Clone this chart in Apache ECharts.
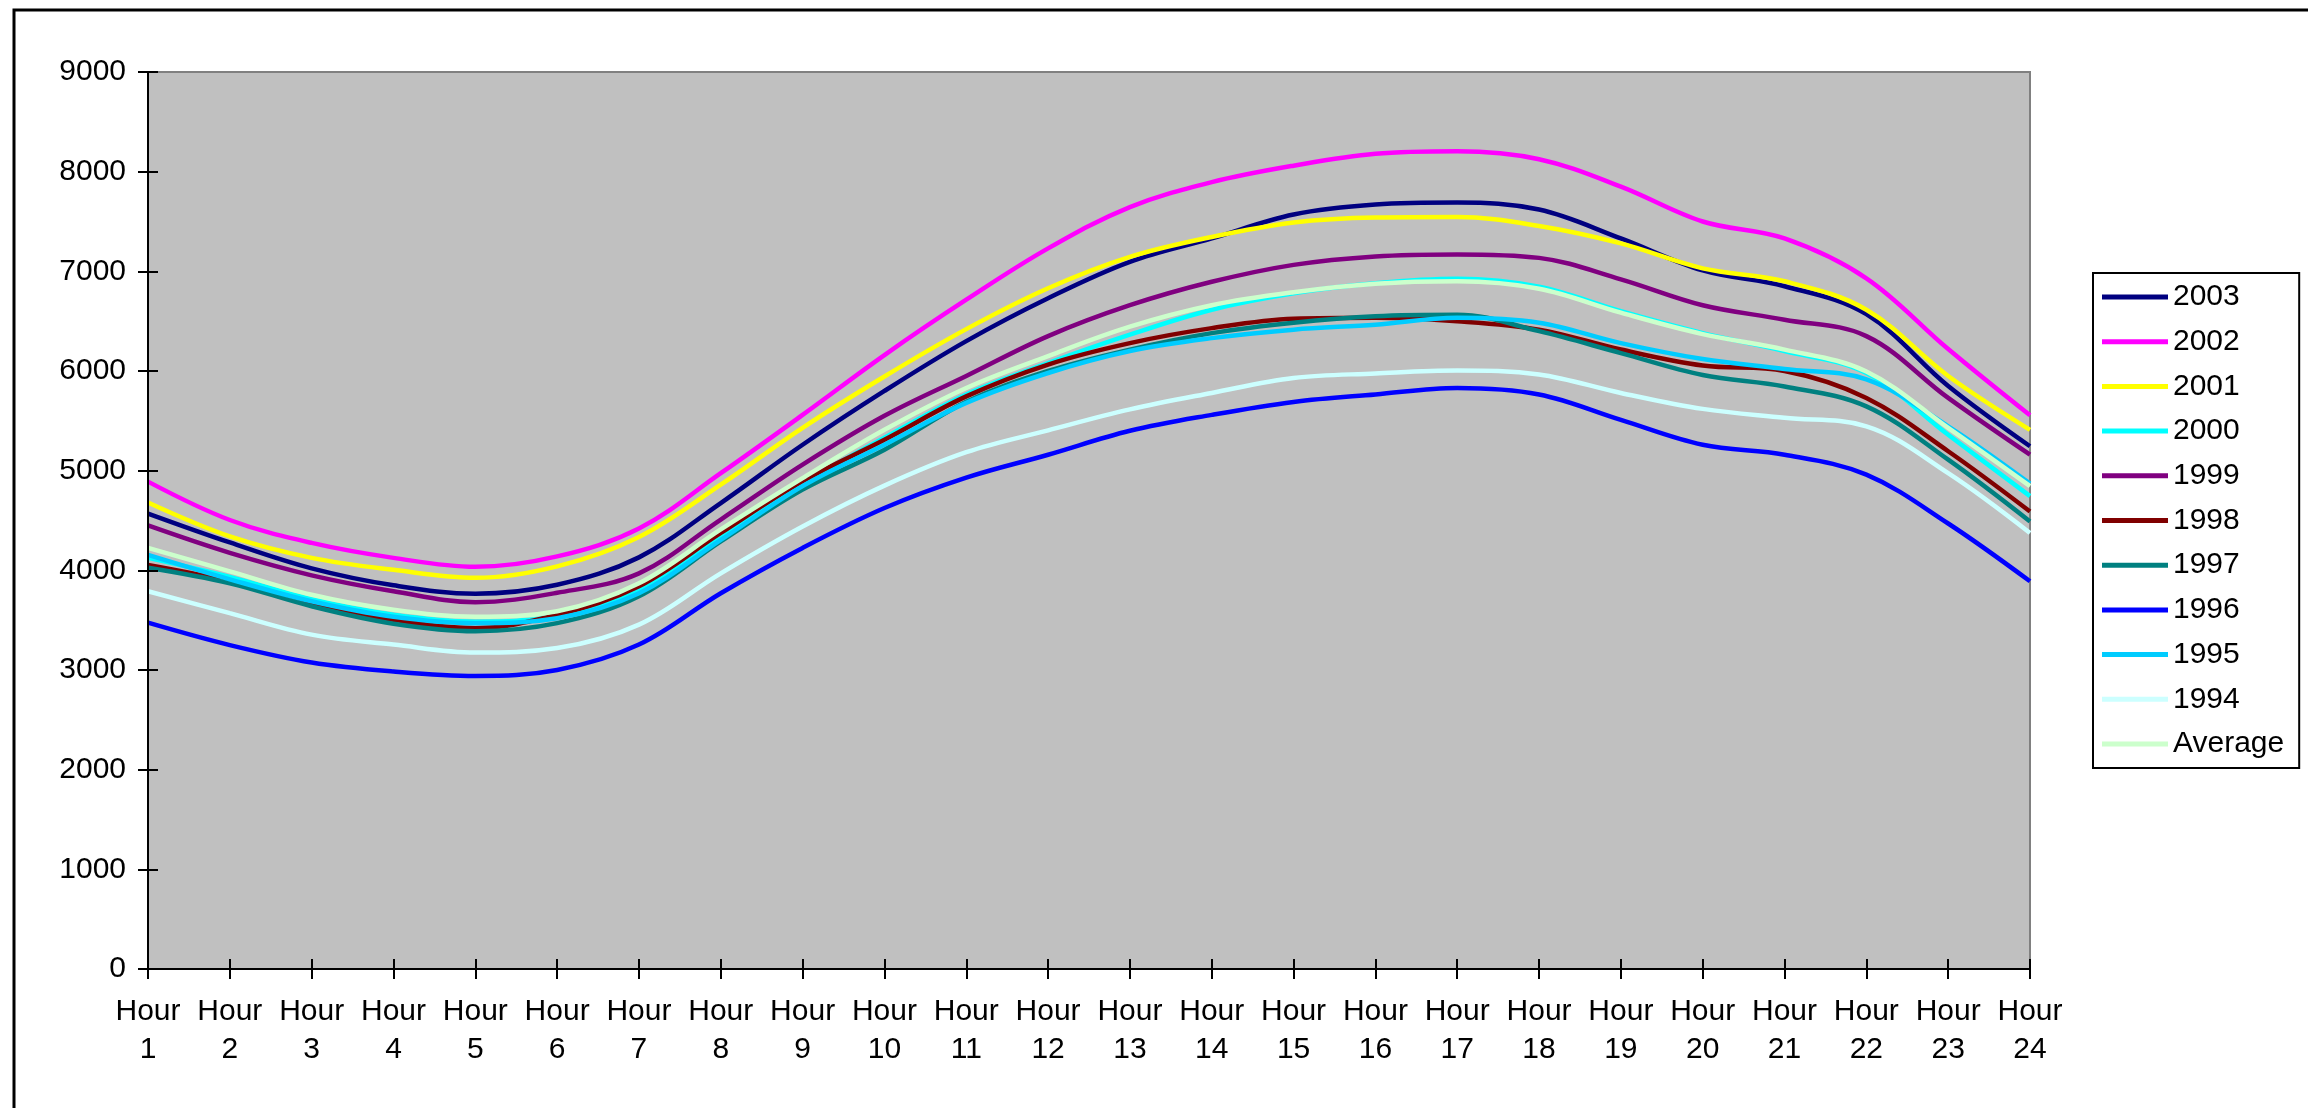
<!DOCTYPE html>
<html>
<head>
<meta charset="utf-8">
<script src="https://cdn.jsdelivr.net/npm/echarts@6/dist/echarts.min.js"></script>
<style>
html,body{margin:0;padding:0;background:#fff;}
#chart{width:2308px;height:1108px;}
</style>
</head>
<body>
<div id="chart"></div>
<script>
const categories = ['Hour 1','Hour 2','Hour 3','Hour 4','Hour 5','Hour 6','Hour 7','Hour 8','Hour 9','Hour 10','Hour 11','Hour 12','Hour 13','Hour 14','Hour 15','Hour 16','Hour 17','Hour 18','Hour 19','Hour 20','Hour 21','Hour 22','Hour 23','Hour 24'];
const yTicks = [0,1000,2000,3000,4000,5000,6000,7000,8000,9000];

const s2003 = [4570,4280,4020,3850,3765,3855,4130,4675,5260,5800,6300,6730,7095,7330,7570,7670,7690,7620,7330,7010,6850,6570,5850,5245];
const s2002 = [4890,4505,4275,4125,4035,4140,4420,4975,5560,6160,6715,7230,7645,7895,8060,8180,8205,8125,7850,7500,7330,6930,6220,5555];
const s2001 = [4680,4340,4125,4005,3925,4040,4335,4860,5430,5945,6420,6830,7145,7345,7490,7540,7545,7455,7280,7030,6900,6615,5950,5410];
const s2000 = [4125,3935,3710,3555,3485,3545,3805,4340,4875,5330,5765,6080,6365,6615,6780,6880,6925,6845,6600,6380,6200,5980,5360,4745];
const s1999 = [4450,4175,3950,3790,3680,3775,3970,4510,5060,5550,5950,6350,6660,6895,7065,7150,7170,7135,6920,6660,6515,6350,5730,5160];
const s1998 = [4055,3890,3665,3505,3420,3555,3840,4375,4895,5310,5745,6065,6280,6430,6525,6535,6500,6415,6215,6055,6000,5730,5195,4590];
const s1997 = [4025,3870,3640,3465,3390,3470,3740,4290,4810,5210,5690,6000,6215,6380,6485,6550,6565,6400,6180,5960,5845,5645,5110,4490];
const s1996 = [3475,3250,3075,2985,2940,3000,3255,3770,4225,4625,4930,5160,5400,5560,5690,5765,5830,5765,5510,5260,5160,4960,4470,3890];
const s1995 = [4155,3910,3690,3535,3470,3520,3770,4305,4845,5260,5680,5980,6200,6330,6415,6465,6535,6485,6280,6120,6020,5915,5445,4870];
const s1994 = [3790,3570,3355,3255,3175,3220,3455,3970,4440,4850,5185,5405,5615,5780,5930,5975,6005,5965,5780,5620,5530,5445,4975,4375];
const sAverage = [4225,3990,3755,3605,3535,3590,3870,4410,4925,5410,5830,6150,6445,6660,6790,6875,6900,6825,6585,6370,6215,5995,5430,4845];

const seriesNames = ['2003','2002','2001','2000','1999','1998','1997','1996','1995','1994','Average'];
const seriesData = [s2003,s2002,s2001,s2000,s1999,s1998,s1997,s1996,s1995,s1994,sAverage];
const seriesColors = ['#000080','#FF00FF','#FFFF00','#00FFFF','#800080','#800000','#008080','#0000FF','#00CCFF','#CCFFFF','#CCFFCC'];

const FONT = '"Liberation Sans", Arial, sans-serif';
const chart = echarts.init(document.getElementById('chart'), null, {renderer:'canvas'});

const series = seriesNames.map((n,i)=>({
  name:n, type:'line', data:seriesData[i], xAxisIndex:0, yAxisIndex:0,
  smooth:0.36, showSymbol:false, symbol:'none',
  lineStyle:{color:seriesColors[i], width:4.5},
  itemStyle:{color:seriesColors[i]},
  emphasis:{disabled:true}
}));

chart.setOption({
  animation:false,
  graphic:[{type:'rect', shape:{x:14,y:10,width:4000,height:4000}, style:{fill:'none', stroke:'#000', lineWidth:3}, z:-10}],
  grid:{left:148,right:278,top:72,bottom:139,show:true,backgroundColor:'#C0C0C0',borderColor:'#808080',borderWidth:2},
  legend:{
    orient:'vertical', left:2093, top:273,
    padding:[9,15,9,9], itemGap:14.7, itemWidth:66, itemHeight:5, icon:'rect',
    backgroundColor:'#fff', borderColor:'#000', borderWidth:2,
    textStyle:{fontFamily:FONT, fontSize:30, lineHeight:30, color:'#000'},
    data:seriesNames, selectedMode:false
  },
  xAxis:[{
    type:'category', data:categories, boundaryGap:false, position:'bottom',
    axisLine:{show:true, lineStyle:{color:'#000', width:2}},
    axisTick:{show:true, inside:false, length:10, alignWithLabel:true, lineStyle:{color:'#000', width:2}},
    axisLabel:{show:true, interval:0, margin:24, fontFamily:FONT, fontSize:30, lineHeight:38, color:'#000',
      formatter:v=>v.replace(' ','\n')},
    splitLine:{show:false}, z:5
  },{
    type:'category', data:categories, boundaryGap:false, position:'bottom',
    axisLine:{show:false},
    axisTick:{show:true, inside:true, length:10, lineStyle:{color:'#000', width:2}},
    axisLabel:{show:false}, splitLine:{show:false}, z:5
  }],
  yAxis:[{
    type:'value', min:yTicks[0], max:yTicks[yTicks.length-1], interval:1000,
    axisLine:{show:true, lineStyle:{color:'#000', width:2}},
    axisTick:{show:true, inside:false, length:10, lineStyle:{color:'#000', width:2}},
    axisLabel:{margin:22, fontFamily:FONT, fontSize:30, color:'#000', formatter:v=>String(v)},
    splitLine:{show:false}, z:5
  },{
    type:'value', min:yTicks[0], max:yTicks[yTicks.length-1], interval:1000, position:'left',
    axisLine:{show:false},
    axisTick:{show:true, inside:true, length:10, lineStyle:{color:'#000', width:2}},
    axisLabel:{show:false}, splitLine:{show:false}, z:5
  }],
  series:series
});
</script>
</body>
</html>
